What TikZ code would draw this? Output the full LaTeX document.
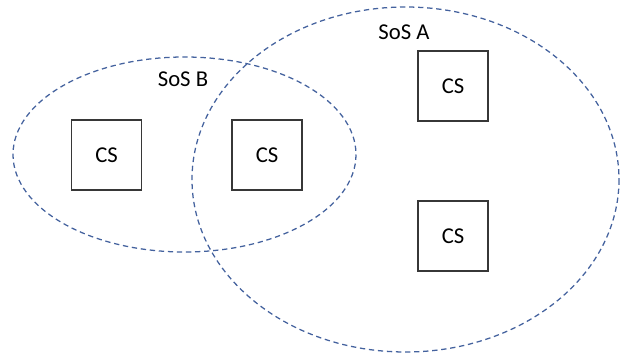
\documentclass[tikz,border=0pt]{standalone}
\usepackage{fontspec}
\setmainfont{Carlito}
\usepackage{tikz}
\usetikzlibrary{positioning}
\definecolor{sosblue}{RGB}{68,98,158}
\definecolor{csgray}{RGB}{55,55,55}

\begin{document}
\begin{tikzpicture}[x=0.75pt,y=-0.75pt,
  csbox/.style={draw=csgray,line width=1.1pt,minimum size=52.5pt,inner sep=0pt,
    font=\fontsize{17}{19}\selectfont},
  sos/.style={draw=sosblue,line width=0.95pt,dash pattern=on 4pt off 2.8pt},
  soslabel/.style={anchor=base,inner sep=0pt,font=\fontsize{17}{19}\selectfont}
]
\useasboundingbox (0,0) rectangle (629,356);

% system-of-systems boundaries
\draw[sos] (405.5,179.5) ellipse [x radius=213.5,y radius=172.5];
\draw[sos] (184.5,154.5) ellipse [x radius=171.5,y radius=97.5];

\node[soslabel] (labA) at (404,40) {SoS A};
\node[soslabel] (labB) at (183,87) {SoS B};

% constituent systems
\node[csbox] (cs1) at (106.5,155) {CS};
\node[csbox] (cs2) at (267,155) {CS};
\node[csbox] (cs3) at (453,86) {CS};
\node[csbox] (cs4) at (453,236) {CS};
\end{tikzpicture}
\end{document}
